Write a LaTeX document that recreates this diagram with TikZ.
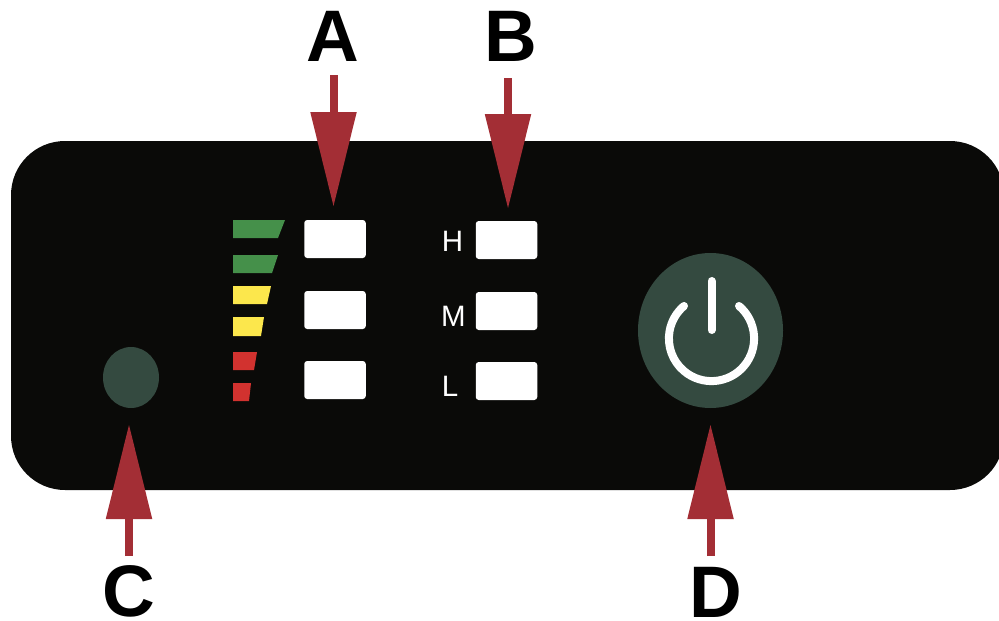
\documentclass[tikz,border=0pt]{standalone}
\usepackage{fontspec}
\setmainfont{Liberation Sans}
\usetikzlibrary{arrows.meta}
\definecolor{panelblack}{HTML}{0A0A08}
\definecolor{knob}{HTML}{344A40}
\definecolor{arrowred}{HTML}{A32E35}
\definecolor{barg}{HTML}{45904A}
\definecolor{bary}{HTML}{FCE74C}
\definecolor{barr}{HTML}{D2322F}
\tikzset{
  x=1pt,y=-1pt,
  keybox/.style={fill=white,rounded corners=3pt,minimum width=61.5pt,minimum height=38pt,inner sep=0pt,outer sep=0pt},
  biglabel/.style={font=\fontsize{73}{73}\selectfont\bfseries,inner sep=0pt,text=black},
  smalllabel/.style={font=\fontsize{29.5}{30}\selectfont,text=white,inner sep=0pt},
  callout/.style={draw=arrowred,line width=8pt,-{Triangle[length=94pt,width=46.5pt,fill=arrowred,line width=0pt]}},
}
\begin{document}
\begin{tikzpicture}
\useasboundingbox (0,0) rectangle (999,621);
\clip (0,0) rectangle (999,621);
\fill[panelblack,rounded corners=54pt] (11,141) rectangle (1004,490);
% level bars
\fill[barg] (233,220) -- (285,220) -- (278,238) -- (233,238) -- cycle;
\fill[barg] (233,255) -- (278,255) -- (272,273) -- (233,273) -- cycle;
\fill[bary] (233,286) -- (271,286) -- (267,304) -- (233,304) -- cycle;
\fill[bary] (233,317) -- (264,317) -- (261,336) -- (233,336) -- cycle;
\fill[barr] (233,352) -- (257,352) -- (254,370) -- (233,370) -- cycle;
\fill[barr] (233,383) -- (251,383) -- (249,401) -- (233,401) -- cycle;
% keys
\node[keybox] (k1) at (335,239) {};
\node[keybox] (k2) at (335,310) {};
\node[keybox] (k3) at (335,380) {};
\node[keybox] (h) at (506.5,240) {};
\node[keybox] (m) at (506.5,311) {};
\node[keybox] (l) at (506.5,381) {};
\node[smalllabel] (hl) at (452.5,241.5) {H};
\node[smalllabel] (ml) at (453.5,316) {M};
\node[smalllabel] (ll) at (450,386) {L};
% sensor and power
\fill[knob] (131,377.5) ellipse [x radius=28,y radius=30.5];
\fill[knob] (710.5,330.5) ellipse [x radius=72.5,y radius=77.5];
\begin{scope}[shift={(711.5,338.5)},x=1pt,y=1pt]
\draw[white,line width=8pt,line cap=round] (49.8:42.6pt) arc[start angle=49.8,delta angle=-279.6,radius=42.6pt];
\end{scope}
\draw[white,line width=8pt,line cap=round] (711.5,281) -- (711.5,330);
% labels
\node[biglabel] (A) at (333,36.5) {A};
\node[biglabel] (B) at (510.5,36.5) {B};
\node[biglabel] (C) at (128.5,591) {C};
\node[biglabel] (D) at (716,592) {D};
% arrows
\coordinate (as) at (333.5,75); \coordinate (at) at (333.5,206);
\coordinate (bs) at (508,78); \coordinate (bt) at (508,208);
\coordinate (cs) at (129,556); \coordinate (ct) at (129,425);
\coordinate (ds) at (710.5,556); \coordinate (dt) at (710.5,425);
\draw[callout] (as) -- (at);
\draw[callout] (bs) -- (bt);
\draw[callout] (cs) -- (ct);
\draw[callout] (ds) -- (dt);
\end{tikzpicture}
\end{document}
